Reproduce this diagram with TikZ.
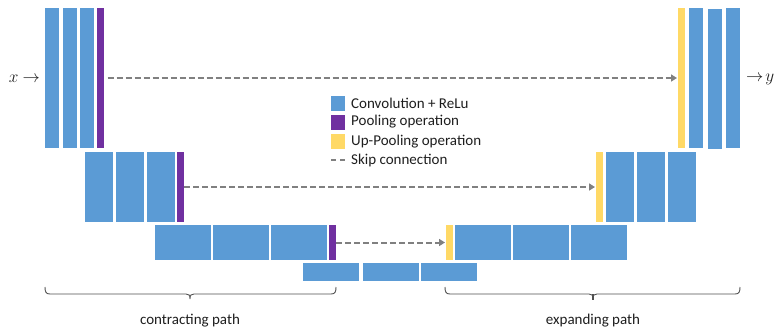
\documentclass[tikz,border=0pt]{standalone}
\usepackage{fontspec}
\setmainfont{Carlito}
\usetikzlibrary{arrows.meta}
\definecolor{convblue}{RGB}{91,155,213}
\definecolor{poolpurple}{RGB}{112,48,160}
\definecolor{uppoolyellow}{RGB}{255,217,102}
\definecolor{skipgray}{RGB}{128,128,128}
\definecolor{bracegray}{RGB}{80,80,80}
\definecolor{labeltext}{RGB}{30,30,30}
\newcommand{\bigvar}[1]{{\fontsize{18}{20}\selectfont$#1$}}
\newcommand{\smallarrow}{{\fontsize{16}{18}\selectfont$\rightarrow$}}
\tikzset{
  blk/.style={rectangle, inner sep=0pt, outer sep=0pt, draw=none},
  conv/.style={blk, fill=convblue},
  pool/.style={blk, fill=poolpurple, minimum width=7pt},
  uppool/.style={blk, fill=uppoolyellow, minimum width=7pt},
  lvlone/.style={minimum height=140pt},
  lvltwo/.style={minimum height=70pt},
  lvlthree/.style={minimum height=35pt},
  lvlfour/.style={minimum height=18pt},
  narrow/.style={minimum width=14pt},
  medium/.style={minimum width=28pt},
  wide/.style={minimum width=56pt},
  skip/.style={draw=skipgray, line width=2pt, dash pattern=on 6pt off 3pt,
    -{Triangle[length=6pt,width=7pt,fill=skipgray]}},
  legendsq/.style={blk, minimum width=14pt, minimum height=15pt},
  legendtxt/.style={anchor=west, inner sep=0pt, text=labeltext,
    font=\fontsize{15}{17}\selectfont},
  pathlabel/.style={inner sep=0pt, text=labeltext, font=\fontsize{15}{17}\selectfont},
  bracestyle/.style={draw=bracegray, line width=0.9pt},
  iolabel/.style={inner sep=0pt, text=labeltext},
}
\begin{document}
\begin{tikzpicture}[x=1pt, y=-1pt]
\useasboundingbox (0,0) rectangle (775,333);

% level 1: contracting side
\node[conv, lvlone, narrow] (c1a) at (52,78) {};
\node[conv, lvlone, narrow] (c1b) at (70,78) {};
\node[conv, lvlone, narrow] (c1c) at (87,78) {};
\node[pool, lvlone] (p1) at (100.5,78) {};
% level 1: expanding side
\node[uppool, lvlone] (u1) at (681.5,78) {};
\node[conv, lvlone, narrow] (e1a) at (696,78) {};
\node[conv, lvlone, narrow] (e1b) at (715,79) {};
\node[conv, lvlone, narrow] (e1c) at (733,78) {};

% level 2
\node[conv, lvltwo, medium] (c2a) at (99,187) {};
\node[conv, lvltwo, medium] (c2b) at (130,187) {};
\node[conv, lvltwo, medium] (c2c) at (161,187) {};
\node[pool, lvltwo] (p2) at (180.5,187) {};
\node[uppool, lvltwo] (u2) at (599.5,187) {};
\node[conv, lvltwo, medium] (e2a) at (620,187) {};
\node[conv, lvltwo, medium] (e2b) at (651,187) {};
\node[conv, lvltwo, medium] (e2c) at (682,187) {};

% level 3
\node[conv, lvlthree, wide] (c3a) at (183,242.5) {};
\node[conv, lvlthree, wide] (c3b) at (241,242.5) {};
\node[conv, lvlthree, wide] (c3c) at (299,242.5) {};
\node[pool, lvlthree] (p3) at (332.5,242.5) {};
\node[uppool, lvlthree] (u3) at (449.5,242.5) {};
\node[conv, lvlthree, wide] (e3a) at (483,242.5) {};
\node[conv, lvlthree, wide] (e3b) at (541,242.5) {};
\node[conv, lvlthree, wide] (e3c) at (599,242.5) {};

% bottleneck
\node[conv, lvlfour, wide] (b1) at (331,272) {};
\node[conv, lvlfour, wide] (b2) at (391,272) {};
\node[conv, lvlfour, wide] (b3) at (449,272) {};

% skip connections
\draw[skip, shorten <=3.5pt, shorten >=1pt] (p1.east) -- (u1.west);
\draw[skip, shorten >=1pt] (p2.east) -- (u2.west);
\draw[skip, shorten >=1pt] (p3.east) -- (u3.west);

% input and output
\node[iolabel, anchor=east] (xin) at (40,79) {\bigvar{x}\hspace{4pt}\smallarrow};
\node[iolabel, anchor=west] (yout) at (746,79) {\smallarrow\hspace{2pt}\bigvar{y}};

% legend
\node[legendsq, fill=convblue] (lgconv) at (338,103.5) {};
\node[legendsq, fill=poolpurple] (lgpool) at (338,122) {};
\node[legendsq, fill=uppoolyellow] (lgup) at (338,141.5) {};
\coordinate (lgskipa) at (331,160);
\coordinate (lgskipb) at (345,160);
\draw[draw=skipgray, line width=2pt, dash pattern=on 5pt off 4pt] (lgskipa) -- (lgskipb);
\node[legendtxt] at (351,103.5) {Convolution + ReLu};
\node[legendtxt] at (351,122) {Pooling operation};
\node[legendtxt] at (351,141.5) {Up-Pooling operation};
\node[legendtxt] at (351,160) {Skip connection};

% braces under the two paths
\draw[bracestyle] (45,287) .. controls (45,292) and (46,294) .. (50,294)
  -- (186,294) .. controls (189,294) and (190,295) .. (190,299)
  .. controls (190,295) and (191,294) .. (194,294)
  -- (331,294) .. controls (335,294) and (336,292) .. (336,287);
\draw[bracestyle] (445,287) .. controls (445,292) and (446,294) .. (450,294)
  -- (589,294) .. controls (592,294) and (593,295) .. (593,299)
  .. controls (593,295) and (594,294) .. (597,294)
  -- (735,294) .. controls (739,294) and (740,292) .. (740,287);
\draw[bracegray, line width=1.6pt] (593,294) -- (593,300);

\node[pathlabel] (contr) at (190,321) {contracting path};
\node[pathlabel] (expan) at (593,321) {expanding path};
\end{tikzpicture}
\end{document}
